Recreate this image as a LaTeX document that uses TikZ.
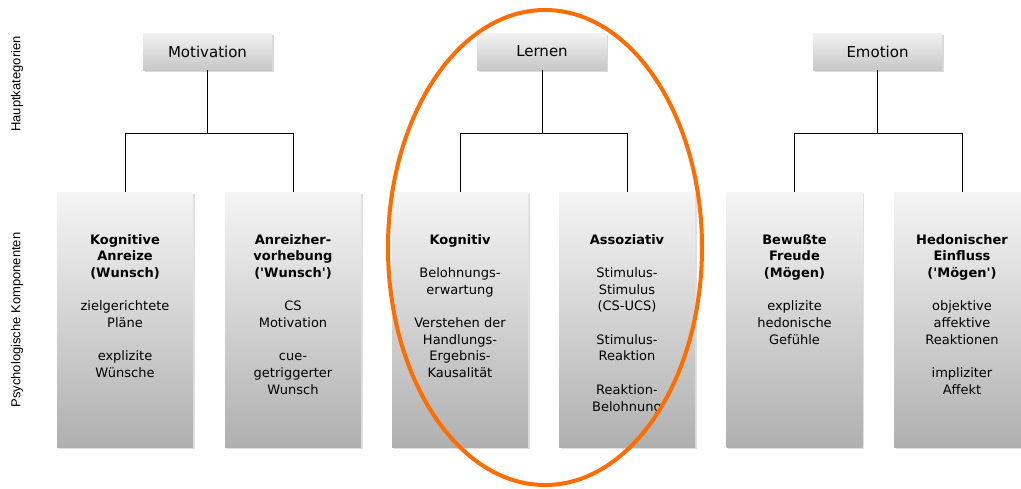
\documentclass[tikz,border=0pt]{standalone}
\usepackage{fontspec}
\setmainfont{DejaVu Sans}
\newfontfamily\sidefont{Liberation Sans}
\usetikzlibrary{shadows}
\definecolor{ellorange}{RGB}{255,108,0}
\tikzset{
  x=1pt,y=-1pt,
  topbox/.style={rectangle, minimum width=129pt, minimum height=37pt, inner sep=0pt,
    top color=black!5, bottom color=black!22,
    drop shadow={shadow xshift=1.5pt, shadow yshift=-1.5pt, fill=black!15, opacity=1},
    font=\fontsize{15}{18}\selectfont},
  compbox/.style={rectangle, minimum width=136pt, minimum height=255pt, inner sep=0pt,
    top color=black!4, bottom color=black!31,
    drop shadow={shadow xshift=1.5pt, shadow yshift=-1.5pt, fill=black!12, opacity=1}},
  comptext/.style={anchor=north, align=center, inner sep=0pt,
    font=\fontsize{13}{16.7}\selectfont},
  conn/.style={draw=black, line width=0.9pt},
  sidelabel/.style={rotate=90, font=\sidefont\fontsize{13}{15}\selectfont}
}
\begin{document}
\begin{tikzpicture}
\useasboundingbox (0,0) rectangle (1021,488);
% side labels
\node[sidelabel] (hk) at (17,84) {Hauptkategorien};
\node[sidelabel] (pk) at (17,320) {Psychologische Komponenten};
% top boxes
\node[topbox] (mot) at (207.5,51.5) {Motivation};
\node[topbox] (ler) at (542,51.5) {Lernen};
\node[topbox] (emo) at (877.5,51.5) {Emotion};
% component boxes
\node[compbox] (b1) at (125,319.5) {};
\node[compbox] (b2) at (293,319.5) {};
\node[compbox] (b3) at (460,319.5) {};
\node[compbox] (b4) at (627,319.5) {};
\node[compbox] (b5) at (794.5,319.5) {};
\node[compbox] (b6) at (962,319.5) {};
% texts
\node[comptext] (t1) at (125,234) {\textbf{Kognitive}\\\textbf{Anreize}\\\textbf{(Wunsch)}\\[16.7pt]zielgerichtete\\Pläne\\[16.7pt]explizite\\Wünsche};
\node[comptext] (t2) at (293,234) {\textbf{Anreizher-}\\\textbf{vorhebung}\\\textbf{(\textquotesingle Wunsch\textquotesingle)}\\[16.7pt]CS\\Motivation\\[16.7pt]cue-\\getriggerter\\Wunsch};
\node[comptext] (t3) at (460,234) {\textbf{Kognitiv}\\[16.7pt]Belohnungs-\\erwartung\\[16.7pt]Verstehen der\\Handlungs-\\Ergebnis-\\Kausalität};
\node[comptext] (t4) at (627,234) {\textbf{Assoziativ}\\[16.7pt]Stimulus-\\Stimulus\\(CS-UCS)\\[16.7pt]Stimulus-\\Reaktion\\[16.7pt]Reaktion-\\Belohnung};
\node[comptext] (t5) at (794.5,234) {\textbf{Bewußte}\\\textbf{Freude}\\\textbf{(Mögen)}\\[16.7pt]explizite\\hedonische\\Gefühle};
\node[comptext] (t6) at (962,234) {\textbf{Hedonischer}\\\textbf{Einfluss}\\\textbf{(\textquotesingle Mögen\textquotesingle)}\\[16.7pt]objektive\\affektive\\Reaktionen\\[16.7pt]impliziter\\Affekt};
% connectors
\draw[conn] (mot.south) -- (mot.south |- 0,133) -| (b1.north);
\draw[conn] (mot.south) -- (mot.south |- 0,133) -| (b2.north);
\draw[conn] (ler.south) -- (ler.south |- 0,133) -| (b3.north);
\draw[conn] (ler.south) -- (ler.south |- 0,133) -| (b4.north);
\draw[conn] (emo.south) -- (emo.south |- 0,133) -| (b5.north);
\draw[conn] (emo.south) -- (emo.south |- 0,133) -| (b6.north);
% ellipse
\draw[ellorange, line width=4pt] (545,247.5) ellipse [x radius=157, y radius=237.5];
\end{tikzpicture}
\end{document}
